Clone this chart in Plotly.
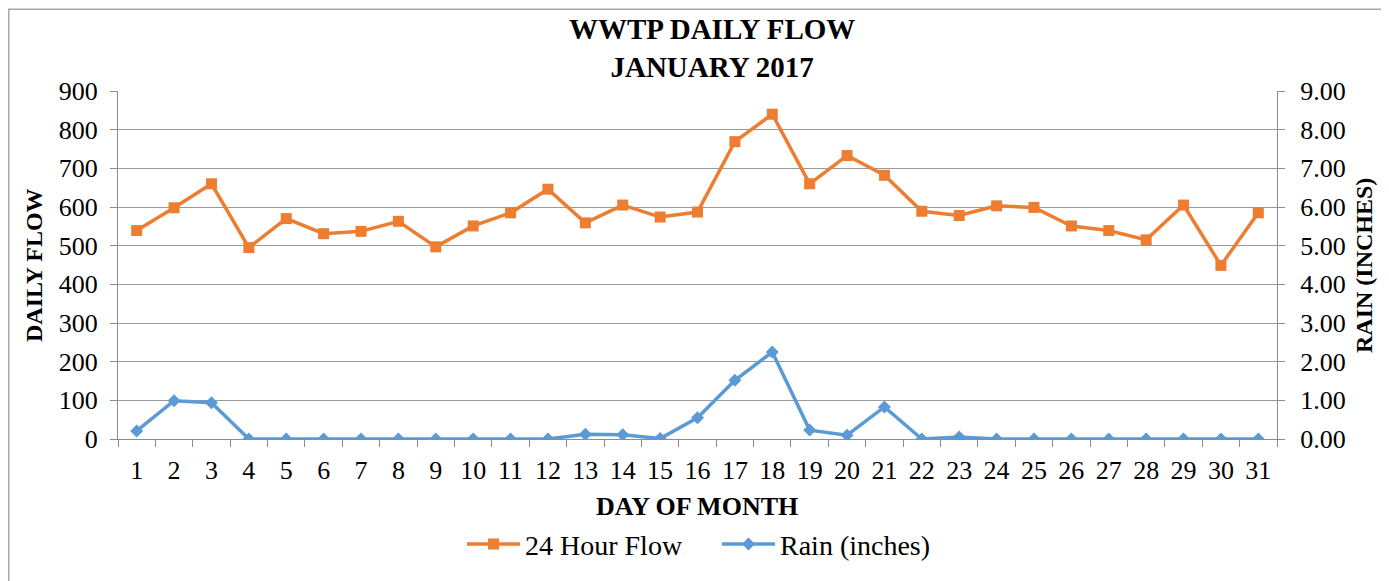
import plotly.graph_objects as go

days = list(range(1, 32))
flow = [539, 598, 660, 495, 570, 531, 537, 563, 497, 551, 585, 646, 559, 605, 574, 587,
        769, 840, 660, 733, 682, 589, 578, 603, 599, 551, 539, 515, 605, 449, 585]
rain = [0.21, 0.99, 0.94, 0.0, 0.0, 0.0, 0.0, 0.0, 0.0, 0.0, 0.0, 0.0, 0.12, 0.11, 0.01, 0.55,
        1.52, 2.25, 0.23, 0.10, 0.83, 0.0, 0.05, 0.0, 0.0, 0.0, 0.0, 0.0, 0.0, 0.0, 0.0]
left_ticks = [0, 100, 200, 300, 400, 500, 600, 700, 800, 900]
right_ticks = [0, 1, 2, 3, 4, 5, 6, 7, 8, 9]

ORANGE = "#ED7D31"
BLUE = "#5B9BD5"
GRID = "#9a9a9a"
AXIS = "#8c8c8c"
FONT = "Liberation Serif"

fig = go.Figure()
fig.add_trace(go.Scatter(
    x=days, y=flow, name="24 Hour Flow", mode="lines+markers",
    line=dict(color=ORANGE, width=3.5),
    marker=dict(symbol="square", size=11, color=ORANGE),
    yaxis="y"))
fig.add_trace(go.Scatter(
    x=days, y=rain, name="Rain (inches)", mode="lines+markers",
    line=dict(color=BLUE, width=3.5),
    marker=dict(symbol="diamond", size=10, color=BLUE),
    yaxis="y2"))

# page body has an 8px margin: work in screen coords, convert to figure coords
OFF = 8
L, R, T, B = 118 - OFF, 1277 - OFF, 91 - OFF, 441 - OFF
W, H = 1389 - OFF, 581 - OFF
pw, ph = R - L, B - T


def px(x):
    return (x - OFF - L) / pw


def py(y):
    return (B - (y - OFF)) / ph


fig.update_layout(
    width=W, height=H,
    margin=dict(l=L, r=W - R, t=T, b=H - B),
    paper_bgcolor="white", plot_bgcolor="white",
    font=dict(family=FONT, size=26, color="black"),
    showlegend=True,
    legend=dict(orientation="h", x=px(462), xanchor="left", y=py(547), yanchor="middle",
                font=dict(family=FONT, size=28), tracegroupgap=0,
                itemwidth=53, entrywidth=187, entrywidthmode="pixels"),
    xaxis=dict(range=[0.5, 31.5], tickvals=days, ticktext=[str(d) for d in days],
               showgrid=False, zeroline=False,
               showline=True, linecolor=AXIS, linewidth=1,
               ticks="outside", ticklen=8, tickcolor="rgba(0,0,0,0)",
               minor=dict(tick0=0.5, dtick=1, ticks="outside", ticklen=7, tickcolor=AXIS, showgrid=False),
               tickfont=dict(family=FONT, size=26)),
    yaxis=dict(range=[0, 900], tickvals=left_ticks, ticktext=[str(v) for v in left_ticks],
               showgrid=True, gridcolor=GRID, gridwidth=1, zeroline=False,
               showline=True, linecolor=AXIS, linewidth=1,
               ticks="outside", ticklen=7, tickcolor=AXIS, ticklabelstandoff=7,
               tickfont=dict(family=FONT, size=26)),
    yaxis2=dict(range=[0, 9], tickvals=right_ticks, ticktext=[f"{v:.2f}" for v in right_ticks],
                overlaying="y", side="right", showgrid=False, zeroline=False,
                showline=True, linecolor=AXIS, linewidth=1,
                ticks="outside", ticklen=7, tickcolor=AXIS, ticklabelstandoff=10,
                tickfont=dict(family=FONT, size=26)),
)

fig.add_shape(type="rect", xref="paper", yref="paper",
              x0=px(8.75), x1=px(1382), y0=py(620), y1=py(8.75),
              line=dict(color="#a6a6a6", width=1.5), fillcolor="rgba(0,0,0,0)", layer="below")

fig.add_annotation(xref="paper", yref="paper", x=px(712), y=py(48),
                   text="<b>WWTP DAILY FLOW<br>JANUARY 2017</b>", showarrow=False,
                   font=dict(family=FONT, size=29), xanchor="center", yanchor="middle")
fig.add_annotation(xref="paper", yref="paper", x=px(697), y=py(509),
                   text="<b>DAY OF MONTH</b>", showarrow=False,
                   font=dict(family=FONT, size=26), xanchor="center", yanchor="middle")
fig.add_annotation(xref="paper", yref="paper", x=px(34), y=py(266),
                   text="<b>DAILY FLOW</b>", showarrow=False, textangle=-90,
                   font=dict(family=FONT, size=24), xanchor="center", yanchor="middle")
fig.add_annotation(xref="paper", yref="paper", x=px(1364), y=py(267),
                   text="<b>RAIN (INCHES)</b>", showarrow=False, textangle=-90,
                   font=dict(family=FONT, size=24), xanchor="center", yanchor="middle")

fig.write_html("out.html")
